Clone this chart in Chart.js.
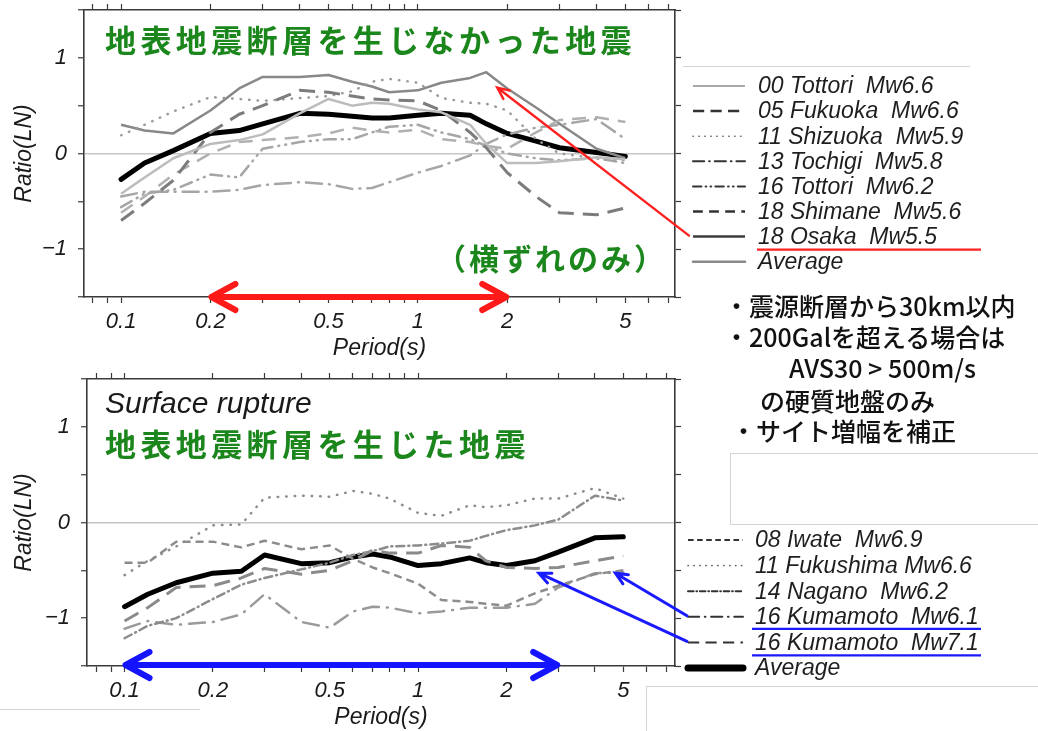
<!DOCTYPE html>
<html>
<head>
<meta charset="utf-8">
<script src="https://cdn.jsdelivr.net/npm/chart.js@4.4.1/dist/chart.umd.min.js"></script>
<style>
html,body{margin:0;padding:0;background:#fff;}
body{width:1038px;height:731px;position:relative;overflow:hidden;}
canvas{position:absolute;left:0;}
#c1{top:0;}
#c2{top:372px;}
.note{position:absolute;font-family:"Noto Sans CJK JP",sans-serif;font-size:25px;font-weight:500;color:#111;white-space:pre;line-height:1;}
.rule{position:absolute;border:0 solid #d4d4d4;}
</style>
</head>
<body>
<canvas id="c1" width="1038" height="372"></canvas>
<canvas id="c2" width="1038" height="359"></canvas>

<div class="rule" style="left:683px;top:66px;width:287px;border-top-width:1px;"></div>
<div class="rule" style="left:730px;top:453px;width:308px;height:70px;border-top-width:1px;border-left-width:1px;border-bottom-width:1px;"></div>
<div class="rule" style="left:646px;top:686px;width:392px;height:45px;border-top-width:1px;border-left-width:1px;"></div>
<div class="rule" style="left:0;top:709px;width:200px;border-top-width:1px;"></div>

<div class="note" style="left:724px;top:293px;">・震源断層から30km以内</div>
<div class="note" style="left:724px;top:324px;">・200Galを超える場合は</div>
<div class="note" style="left:789px;top:355px;">AVS30 &gt; 500m/s</div>
<div class="note" style="left:760px;top:388px;">の硬質地盤のみ</div>
<div class="note" style="left:731px;top:418px;">・サイト増幅を補正</div>

<script>
// Response-spectrum ratios (natural log) against period, per earthquake.
const periods = [0.1, 0.12, 0.15, 0.2, 0.25, 0.3, 0.4, 0.5, 0.6, 0.7, 0.8, 1.0, 1.2, 1.5, 1.7, 2.0, 2.5, 3.0, 4.0, 5.0];

// Earthquakes without surface rupture (strike-slip only)
const tottori2000   = [-0.42, -0.25, -0.05, 0.10, 0.14, 0.20, 0.42, 0.57, 0.50, 0.53, 0.52, 0.46, 0.43, 0.30, 0.10, -0.10, -0.10, -0.08, -0.04, -0.06];
const fukuoka2005   = [-0.70, -0.52, -0.28, 0.22, 0.41, 0.50, 0.66, 0.64, 0.60, 0.57, 0.56, 0.55, 0.45, 0.22, 0.06, -0.20, -0.45, -0.62, -0.64, -0.57];
const shizuoka2011  = [0.19, 0.30, 0.44, 0.59, 0.57, 0.55, 0.58, 0.60, 0.65, 0.75, 0.78, 0.74, 0.58, 0.53, 0.52, 0.45, 0.15, 0.00, -0.05, -0.07];
const tochigi2013   = [-0.45, -0.40, -0.40, -0.40, -0.38, -0.33, -0.30, -0.32, -0.37, -0.36, -0.30, -0.20, -0.13, -0.02, 0.10, 0.20, 0.27, 0.30, 0.36, 0.15];
const tottori2016   = [-0.56, -0.42, -0.38, -0.22, -0.25, 0.05, 0.12, 0.15, 0.15, 0.22, 0.28, 0.30, 0.22, 0.15, 0.08, 0.00, -0.05, -0.07, -0.05, -0.10];
const shimane2018   = [-0.62, -0.45, -0.22, 0.00, 0.12, 0.14, 0.17, 0.21, 0.27, 0.24, 0.22, 0.25, 0.15, 0.12, 0.08, 0.05, 0.22, 0.35, 0.38, 0.33];
const osaka2018     = [0.30, 0.24, 0.21, 0.45, 0.68, 0.80, 0.80, 0.82, 0.75, 0.70, 0.64, 0.66, 0.74, 0.79, 0.85, 0.68, 0.48, 0.31, 0.05, -0.05];
const averageNoRupture = [-0.27, -0.10, 0.03, 0.21, 0.24, 0.31, 0.42, 0.41, 0.39, 0.37, 0.37, 0.40, 0.42, 0.40, 0.31, 0.21, 0.13, 0.06, 0.01, -0.03];

// Earthquakes with surface rupture
const iwate2008     = [-0.42, -0.42, -0.20, -0.20, -0.26, -0.19, -0.28, -0.24, -0.38, -0.47, -0.53, -0.64, -0.81, -0.83, -0.85, -0.87, -0.74, -0.66, -0.54, -0.50];
const fukushima2011 = [-0.55, -0.40, -0.25, -0.03, -0.02, 0.26, 0.28, 0.27, 0.33, 0.30, 0.25, 0.10, 0.07, 0.18, 0.16, 0.18, 0.25, 0.25, 0.36, 0.25];
const nagano2014    = [-1.21, -1.08, -1.00, -0.80, -0.65, -0.58, -0.49, -0.42, -0.34, -0.30, -0.25, -0.24, -0.22, -0.19, -0.14, -0.08, -0.03, 0.03, 0.28, 0.23];
const kumamoto61    = [-1.11, -1.03, -1.07, -1.04, -0.96, -0.75, -1.04, -1.10, -0.93, -0.88, -0.89, -0.95, -0.93, -0.89, -0.89, -0.89, -0.85, -0.68, -0.53, -0.52];
const kumamoto71    = [-1.03, -0.89, -0.68, -0.66, -0.58, -0.48, -0.54, -0.50, -0.40, -0.29, -0.32, -0.32, -0.24, -0.26, -0.40, -0.47, -0.48, -0.47, -0.40, -0.35];
const averageRupture = [-0.88, -0.75, -0.63, -0.53, -0.51, -0.34, -0.43, -0.42, -0.36, -0.33, -0.36, -0.45, -0.43, -0.37, -0.42, -0.45, -0.40, -0.31, -0.16, -0.15];

// Axis ticks
const periodTickMarks  = [0.08, 0.09, 0.1, 0.2, 0.3, 0.4, 0.5, 0.6, 0.7, 0.8, 0.9, 1, 2, 3, 4, 5, 6, 7];
const periodTickLabels = [0.1, 0.2, 0.5, 1, 2, 5];
const ratioTickMarks   = [-1.5, -1, -0.5, 0, 0.5, 1, 1.5];
const ratioTickValues  = [-1, 0, 1];
const ratioTickText    = ['\u22121', '0', '1'];

// Line styles (plot line, legend sample)
const noRuptureStyles = [
  {label: '00 Tottori  Mw6.6',  color: '#bcbcbc', width: 2.5, dash: [],            cap: 'butt',  key: '#a9a9a9', keyWidth: 2},
  {label: '05 Fukuoka  Mw6.6',  color: '#7c7c7c', width: 3,   dash: [16, 9],       cap: 'butt',  key: '#333',    keyWidth: 2.5},
  {label: '11 Shizuoka  Mw5.9', color: '#9a9a9a', width: 2.5, dash: [0.5, 8],      cap: 'round', key: '#666',    keyWidth: 1.6},
  {label: '13 Tochigi  Mw5.8',  color: '#a6a6a6', width: 2.5, dash: [16, 7, 1, 7], cap: 'round', key: '#333',    keyWidth: 2},
  {label: '16 Tottori  Mw6.2',  color: '#a6a6a6', width: 2.5, dash: [12, 6, 1, 6, 1, 6], cap: 'round', key: '#333', keyWidth: 2},
  {label: '18 Shimane  Mw5.6',  color: '#b0b0b0', width: 2.5, dash: [14, 9],       cap: 'butt',  key: '#333',    keyWidth: 2.5},
  {label: '18 Osaka  Mw5.5',    color: '#888888', width: 2.5, dash: [],            cap: 'butt',  key: '#3c3c3c', keyWidth: 2.5},
  {label: 'Average',            color: '#000000', width: 5,   dash: [],            cap: 'round', key: '#8a8a8a', keyWidth: 2.5}
];
const ruptureStyles = [
  {label: '08 Iwate  Mw6.9',     color: '#8c8c8c', width: 2.5, dash: [8, 5],        cap: 'butt',  key: '#333', keyWidth: 2},
  {label: '11 Fukushima Mw6.6',  color: '#8c8c8c', width: 2.5, dash: [0.5, 8],      cap: 'round', key: '#666', keyWidth: 1.6},
  {label: '14 Nagano  Mw6.2',    color: '#8c8c8c', width: 2.5, dash: [8, 4, 1, 4],  cap: 'round', key: '#333', keyWidth: 2},
  {label: '16 Kumamoto  Mw6.1',  color: '#9a9a9a', width: 2.5, dash: [16, 8, 1, 8], cap: 'round', key: '#333', keyWidth: 2},
  {label: '16 Kumamoto  Mw7.1',  color: '#8a8a8a', width: 3,   dash: [16, 9],       cap: 'butt',  key: '#333', keyWidth: 2},
  {label: 'Average',             color: '#000000', width: 5,   dash: [],            cap: 'round', key: '#000', keyWidth: 7}
];

const SANS = '"Liberation Sans", Arial, Helvetica, sans-serif';
const CJK = '"Noto Sans CJK JP", sans-serif';
const GREEN = '#1b861b';

function makeDatasets(series, styles) {
  return series.map((vals, i) => ({
    label: styles[i].label,
    data: periods.map((p, j) => ({x: p, y: vals[j]})),
    borderColor: styles[i].color,
    borderWidth: styles[i].width,
    borderDash: styles[i].dash,
    borderCapStyle: styles[i].cap,
    borderJoinStyle: 'round',
    pointRadius: 0,
    pointHoverRadius: 0,
    fill: false,
    tension: 0
  }));
}

// keep label overhang from pushing the plot area around
function noOverhang(s) {
  s.paddingTop = 0; s.paddingBottom = 0; s.paddingLeft = 0; s.paddingRight = 0;
}

function buildScales(c) {
  const tickFont = {family: SANS, size: 22, style: 'italic'};
  const titleFont = {family: SANS, size: 23, style: 'italic'};
  const frame = {display: true, color: '#3a3a3a', width: 1.6};
  const setPeriodTicks = s => { s.ticks = periodTickMarks.map(v => ({value: v})); };
  const setRatioTicks = s => { s.ticks = ratioTickMarks.map(v => ({value: v})); };
  const tickGrid = {drawOnChartArea: false, drawTicks: true, tickLength: 6, tickColor: '#3a3a3a', tickWidth: 1.2};
  return {
    x: {
      type: 'logarithmic', position: 'bottom', min: c.xmin, max: c.xmax,
      afterBuildTicks: setPeriodTicks,
      afterFit: s => { s.height = c.xAxisHeight; noOverhang(s); },
      ticks: {autoSkip: false, maxRotation: 0, minRotation: 0, padding: 6, color: '#1a1a1a', font: tickFont,
              callback: v => periodTickLabels.includes(v) ? String(v) : ''},
      grid: tickGrid,
      border: frame,
      title: {display: true, text: 'Period(s)', color: '#1a1a1a', font: titleFont, padding: {top: 0, bottom: c.xTitlePad}}
    },
    x2: {
      type: 'logarithmic', position: 'top', min: c.xmin, max: c.xmax,
      afterBuildTicks: setPeriodTicks,
      afterFit: s => { s.height = 6; noOverhang(s); },
      ticks: {display: false},
      grid: tickGrid,
      border: frame
    },
    y: {
      type: 'linear', position: 'left', min: -1.5, max: 1.5,
      afterBuildTicks: setRatioTicks,
      afterFit: s => { s.width = c.yAxisWidth; noOverhang(s); },
      ticks: {padding: 11, color: '#1a1a1a', font: tickFont,
              callback: v => { const k = ratioTickValues.indexOf(v); return k >= 0 ? ratioTickText[k] : ''; }},
      grid: {drawOnChartArea: true, drawTicks: true, tickLength: 6, tickColor: '#3a3a3a', tickWidth: 1.2,
             lineWidth: 1.5,
             color: ctx => (ctx.tick && ctx.tick.value === 0) ? '#c6c6c6' : 'rgba(0,0,0,0)'},
      border: frame,
      title: {display: true, text: 'Ratio(LN)', color: '#1a1a1a', font: titleFont, padding: {top: 11, bottom: 0}}
    },
    y2: {
      type: 'linear', position: 'right', min: -1.5, max: 1.5,
      afterBuildTicks: setRatioTicks,
      afterFit: s => { s.width = 6; noOverhang(s); },
      ticks: {display: false},
      grid: tickGrid,
      border: frame
    }
  };
}

// ---- drawing helpers for legend and callouts ----
function drawLegend(ctx, styles, x0, x1, textX, y0, step) {
  ctx.save();
  ctx.font = 'italic 23px ' + SANS;
  ctx.textBaseline = 'middle';
  ctx.textAlign = 'left';
  styles.forEach((st, i) => {
    const y = y0 + i * step;
    ctx.strokeStyle = st.key;
    ctx.lineWidth = st.keyWidth;
    ctx.lineCap = st.cap;
    ctx.setLineDash(st.dash.length ? st.dash.map(d => d * 0.7) : []);
    ctx.beginPath();
    ctx.moveTo(x0, y);
    ctx.lineTo(x1, y);
    ctx.stroke();
    ctx.setLineDash([]);
    ctx.fillStyle = '#1e1e1e';
    ctx.fillText(st.label, textX, y + 1);
  });
  ctx.restore();
}

function drawDoubleArrow(ctx, xa, xb, y, color) {
  ctx.save();
  ctx.strokeStyle = color;
  ctx.lineWidth = 6;
  ctx.lineCap = 'round';
  ctx.lineJoin = 'round';
  ctx.beginPath();
  ctx.moveTo(xa + 3, y);
  ctx.lineTo(xb - 3, y);
  ctx.stroke();
  ctx.beginPath();
  ctx.moveTo(xa + 25, y - 13); ctx.lineTo(xa + 1, y); ctx.lineTo(xa + 25, y + 13);
  ctx.stroke();
  ctx.beginPath();
  ctx.moveTo(xb - 25, y - 13); ctx.lineTo(xb - 1, y); ctx.lineTo(xb - 25, y + 13);
  ctx.stroke();
  ctx.restore();
}

function drawPointer(ctx, x0, y0, x1, y1, color, w) {
  const a = Math.atan2(y1 - y0, x1 - x0);
  const L = 13, s = 0.42;
  ctx.save();
  ctx.strokeStyle = color;
  ctx.lineWidth = w;
  ctx.lineCap = 'round';
  ctx.beginPath();
  ctx.moveTo(x0, y0);
  ctx.lineTo(x1, y1);
  ctx.moveTo(x1 - L * Math.cos(a - s), y1 - L * Math.sin(a - s));
  ctx.lineTo(x1, y1);
  ctx.lineTo(x1 - L * Math.cos(a + s), y1 - L * Math.sin(a + s));
  ctx.stroke();
  ctx.restore();
}

function drawUnderline(ctx, xa, xb, y, color) {
  ctx.save();
  ctx.strokeStyle = color;
  ctx.lineWidth = 2.2;
  ctx.beginPath();
  ctx.moveTo(xa, y);
  ctx.lineTo(xb, y);
  ctx.stroke();
  ctx.restore();
}

function greenText(ctx, text, x, y, size, spacing) {
  ctx.save();
  ctx.font = 'bold ' + size + 'px ' + CJK;
  ctx.fillStyle = GREEN;
  ctx.textBaseline = 'middle';
  ctx.textAlign = 'left';
  ctx.letterSpacing = spacing + 'px';
  ctx.fillText(text, x, y);
  ctx.restore();
}

const overlays = {
  c1(chart) {
    const ctx = chart.ctx, xs = chart.scales.x, ys = chart.scales.y;
    greenText(ctx, '地表地震断層を生じなかった地震', 105, 40, 31, 4.4);
    greenText(ctx, '（横ずれのみ）', 436, 259, 30, 3);
    drawDoubleArrow(ctx, xs.getPixelForValue(0.2), xs.getPixelForValue(2), ys.getPixelForValue(-1.5), '#ff1a1a');
    drawLegend(ctx, noRuptureStyles, 693, 745, 758, 86, 25.1);
    const rowOsaka = 86 + 6 * 25.1;
    drawPointer(ctx, 689, rowOsaka - 1, xs.getPixelForValue(1.85), ys.getPixelForValue(0.69), '#ff2020', 2.4);
    drawUnderline(ctx, 757, 981, rowOsaka + 13, '#ff2020');
  },
  c2(chart) {
    const ctx = chart.ctx, xs = chart.scales.x, ys = chart.scales.y;
    ctx.save();
    ctx.font = 'italic 30px ' + SANS;
    ctx.fillStyle = '#1a1a1a';
    ctx.textBaseline = 'alphabetic';
    ctx.fillText('Surface rupture', 105, 41);
    ctx.restore();
    greenText(ctx, '地表地震断層を生じた地震', 105, 72, 31, 4.4);
    drawDoubleArrow(ctx, xs.getPixelForValue(0.1), xs.getPixelForValue(3), ys.getPixelForValue(-1.5) - 1, '#1414ff');
    drawLegend(ctx, ruptureStyles, 688, 743, 755, 168, 25.6);
    const row61 = 168 + 3 * 25.6, row71 = 168 + 4 * 25.6;
    drawPointer(ctx, 687, row61 - 1, xs.getPixelForValue(4.7), ys.getPixelForValue(-0.53), '#1a1aff', 3);
    drawPointer(ctx, 687, row71 - 1, xs.getPixelForValue(2.58), ys.getPixelForValue(-0.53), '#1a1aff', 3);
    drawUnderline(ctx, 752, 981, row61 + 12, '#1a1aff');
    drawUnderline(ctx, 752, 981, row71 + 13, '#1a1aff');
  }
};

const overlayPlugin = {
  id: 'overlay',
  afterDraw(chart) {
    const fn = overlays[chart.canvas.id];
    if (fn) fn(chart);
  }
};

function makeChart(id, series, styles, c) {
  return new Chart(document.getElementById(id), {
    type: 'line',
    data: {datasets: makeDatasets(series, styles)},
    options: {
      responsive: false,
      animation: false,
      devicePixelRatio: 1,
      layout: {padding: {left: 0, top: c.padTop, right: c.padRight, bottom: 0}},
      plugins: {legend: {display: false}, tooltip: {enabled: false}},
      scales: buildScales(c)
    },
    plugins: [overlayPlugin]
  });
}

makeChart('c1',
  [tottori2000, fukuoka2005, shizuoka2011, tochigi2013, tottori2016, shimane2018, osaka2018, averageNoRupture],
  noRuptureStyles,
  {xmin: 0.075, xmax: 7.35, yAxisWidth: 84, xAxisHeight: 75, xTitlePad: 10, padTop: 4, padRight: 357});

makeChart('c2',
  [iwate2008, fukushima2011, nagano2014, kumamoto61, kumamoto71, averageRupture],
  ruptureStyles,
  {xmin: 0.0745, xmax: 7.5, yAxisWidth: 87, xAxisHeight: 65, xTitlePad: 0, padTop: 1, padRight: 357});
</script>
</body>
</html>
